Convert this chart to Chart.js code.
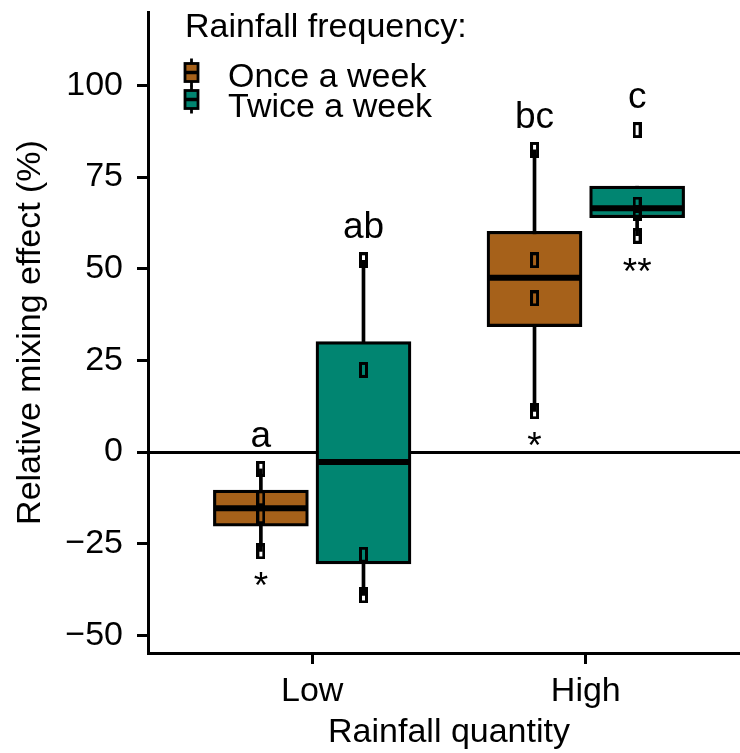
<!DOCTYPE html>
<html>
<head>
<meta charset="utf-8">
<script src="https://cdn.jsdelivr.net/npm/chart.js@4.4.1/dist/chart.umd.min.js"></script>
<style>
    html, body { margin: 0; padding: 0; background: #ffffff; overflow: hidden; }
    #chart-container { position: relative; width: 760px; height: 753px; }
</style>
</head>
<body>
<div id="chart-container"><canvas id="chart-mixing" width="760" height="753"></canvas></div>
<script>
// chart data
const categories   = ['Low', 'High'];
const frequencies  = ['Once a week', 'Twice a week'];
const freqColors   = ['#A6611A', '#018571'];
const yTicks       = [-50, -25, 0, 25, 50, 75, 100];

// box statistics, one value per rainfall quantity (Low, High)
const onceMin      = [-27.1, 11.1];
const onceQ1       = [-20.2, 34.2];
const onceMedian   = [-15.3, 47.5];
const onceQ3       = [-10.4, 60.2];
const onceMax      = [-4.6, 82.4];

const twiceMin     = [-39.1, 59.0];
const twiceQ1      = [-30.5, 63.9];
const twiceMedian  = [-2.7, 66.5];
const twiceQ3      = [30.1, 72.5];
const twiceMax     = [52.3, 72.5];

// raw observations
const oncePoints   = [[-4.6, -12.6, -17.5, -27.1], [82.4, 52.3, 41.9, 11.1]];
const twicePoints  = [[52.3, 22.4, -28.0, -39.1], [87.8, 67.5, 65.3, 59.0]];

// significance letters and stars
const onceLetters  = ['a', 'bc'];
const twiceLetters = ['ab', 'c'];
const onceLetterY  = [1.4, 88.4];
const twiceLetterY = [58.4, 93.9];
const onceStars    = ['*', '*'];
const twiceStars   = ['', '**'];
const onceStarY    = [-39.8, -1.6];
const twiceStarY   = [null, 45.8];

const DODGE = 0.1875;
const FONT  = 'Liberation Sans, Arial, Helvetica, sans-serif';
// -------------------------------------------------------------------------------------------
function makePointMark()
{
    const c = document.createElement('canvas');
    c.width = 9;
    c.height = 16;
    const g = c.getContext('2d');
    g.strokeStyle = '#000000';
    g.lineWidth = 3;
    g.strokeRect(1.5, 1.5, 6, 13);
    return c;
}
// -------------------------------------------------------------------------------------------
function groupX(catIndex, freqIndex)
{
    return catIndex + 1 + (freqIndex === 0 ? -DODGE : DODGE);
}
// -------------------------------------------------------------------------------------------
function buildDatasets()
{
    const stats = [
        { min: onceMin,  q1: onceQ1,  med: onceMedian,  q3: onceQ3,  max: onceMax,  pts: oncePoints },
        { min: twiceMin, q1: twiceQ1, med: twiceMedian, q3: twiceQ3, max: twiceMax, pts: twicePoints }
    ];
    const mark = makePointMark();
    let datasets = [];

    stats.forEach((s, f) => {
        datasets.push({
            type: 'bar',
            label: frequencies[f] + ' whisker',
            data: categories.map((c, i) => ({ x: groupX(i, f), y: [s.min[i], s.max[i]] })),
            backgroundColor: '#000000',
            borderWidth: 0,
            barThickness: 3,
            grouped: false,
            order: 4
        });
        datasets.push({
            type: 'bar',
            label: frequencies[f],
            data: categories.map((c, i) => ({ x: groupX(i, f), y: [s.q1[i], s.q3[i]] })),
            backgroundColor: freqColors[f],
            borderColor: '#000000',
            borderWidth: 3.2,
            borderSkipped: false,
            barThickness: 95,
            grouped: false,
            order: 3
        });
        datasets.push({
            type: 'scatter',
            label: frequencies[f] + ' median',
            data: categories.map((c, i) => ({ x: groupX(i, f), y: s.med[i] })),
            pointStyle: 'line',
            pointRadius: 47,
            pointBorderWidth: 6,
            pointBorderColor: '#000000',
            borderColor: '#000000',
            showLine: false,
            order: 2
        });
        let pts = [];
        categories.forEach((c, i) => {
            s.pts[i].forEach((v) => pts.push({ x: groupX(i, f), y: v }));
        });
        datasets.push({
            type: 'scatter',
            label: frequencies[f] + ' points',
            data: pts,
            pointStyle: mark,
            pointRadius: 5,
            showLine: false,
            order: 1
        });
    });
    return datasets;
}
// -------------------------------------------------------------------------------------------
const annotationPlugin = {
    id: 'annotations',
    afterDatasetsDraw(chart)
    {
        const ctx = chart.ctx;
        const xs = chart.scales.x;
        const ys = chart.scales.y;
        const letters = [onceLetters, twiceLetters];
        const letterY = [onceLetterY, twiceLetterY];
        const stars   = [onceStars, twiceStars];
        const starY   = [onceStarY, twiceStarY];

        ctx.save();
        ctx.fillStyle = '#000000';
        ctx.textAlign = 'center';
        ctx.textBaseline = 'alphabetic';
        ctx.font = '37px ' + FONT;
        for (let f = 0; f < 2; f++) {
            categories.forEach((c, i) => {
                const px = xs.getPixelForValue(groupX(i, f));
                ctx.fillText(letters[f][i], px, ys.getPixelForValue(letterY[f][i]));
                if (stars[f][i]) {
                    ctx.fillText(stars[f][i], px, ys.getPixelForValue(starY[f][i]));
                }
            });
        }
        ctx.restore();
    }
};
// -------------------------------------------------------------------------------------------
const legendPlugin = {
    id: 'boxLegend',
    afterDraw(chart)
    {
        const ctx = chart.ctx;
        ctx.save();
        ctx.fillStyle = '#000000';
        ctx.textAlign = 'left';
        ctx.textBaseline = 'alphabetic';
        ctx.font = '34px ' + FONT;
        ctx.fillText('Rainfall frequency:', 185, 37);

        frequencies.forEach((label, index) => {
            const cy = 72.5 + index * 27;
            const left = 185, w = 13, h = 18;
            ctx.strokeStyle = '#000000';
            ctx.lineWidth = 2.8;
            ctx.beginPath();
            ctx.moveTo(left + w / 2, cy - 14);
            ctx.lineTo(left + w / 2, cy + 14);
            ctx.stroke();
            ctx.fillStyle = freqColors[index];
            ctx.fillRect(left, cy - h / 2, w, h);
            ctx.strokeRect(left, cy - h / 2, w, h);
            ctx.lineWidth = 3.5;
            ctx.beginPath();
            ctx.moveTo(left, cy);
            ctx.lineTo(left + w, cy);
            ctx.stroke();
            ctx.fillStyle = '#000000';
            ctx.fillText(label, 228, 87 + index * 30);
        });
        ctx.restore();
    }
};
// -------------------------------------------------------------------------------------------
function drawMixingChart()
{
    Chart.defaults.font.family = FONT;
    Chart.defaults.color = '#000000';

    const options = {
        responsive: false,
        animation: false,
        devicePixelRatio: 1,
        layout: {
            autoPadding: false,
            padding: { left: 0, right: 10, top: 12, bottom: 0 }
        },
        plugins: {
            legend: { display: false },
            tooltip: { enabled: false }
        },
        scales: {
            x: {
                type: 'linear',
                min: 0.4,
                max: 2.6,
                offset: false,
                afterFit: (scale) => {
                    scale.height = 100;
                    scale.paddingLeft = 0;
                    scale.paddingRight = 0;
                },
                afterBuildTicks: (scale) => {
                    scale.ticks = categories.map((c, i) => ({ value: i + 1 }));
                },
                border: { display: true, color: '#000000', width: 3 },
                grid: {
                    offset: false,
                    drawOnChartArea: false,
                    drawTicks: true,
                    tickLength: 11,
                    tickWidth: 3,
                    tickColor: '#000000'
                },
                ticks: {
                    autoSkip: false,
                    maxRotation: 0,
                    padding: 7,
                    color: '#000000',
                    font: { size: 34 },
                    callback: (value) => categories[value - 1] || ''
                },
                title: {
                    display: true,
                    text: 'Rainfall quantity',
                    color: '#000000',
                    font: { size: 34 },
                    padding: { top: 1, bottom: 0 }
                }
            },
            y: {
                type: 'linear',
                min: -54.8,
                max: 120,
                afterFit: (scale) => {
                    scale.width = 148;
                    scale.paddingTop = 0;
                    scale.paddingBottom = 0;
                },
                afterBuildTicks: (scale) => {
                    scale.ticks = yTicks.map((v) => ({ value: v }));
                },
                border: { display: true, color: '#000000', width: 3 },
                grid: {
                    drawOnChartArea: true,
                    drawTicks: true,
                    lineWidth: 3,
                    color: (ctx) => (ctx.tick && ctx.tick.value === 0 ? '#000000' : 'rgba(0,0,0,0)'),
                    tickLength: 11,
                    tickWidth: 3,
                    tickColor: '#000000'
                },
                ticks: {
                    padding: 14,
                    color: '#000000',
                    font: { size: 34 },
                    callback: (value) => (value < 0 ? '\u2212' + Math.abs(value) : String(value))
                },
                title: {
                    display: true,
                    text: 'Relative mixing effect (%)',
                    color: '#000000',
                    font: { size: 34 },
                    padding: { top: 10, bottom: 0 }
                }
            }
        }
    };

    new Chart('chart-mixing', {
        type: 'bar',
        data: { datasets: buildDatasets() },
        options: options,
        plugins: [annotationPlugin, legendPlugin]
    });
}
// -------------------------------------------------------------------------------------------
drawMixingChart();
</script>
</body>
</html>
